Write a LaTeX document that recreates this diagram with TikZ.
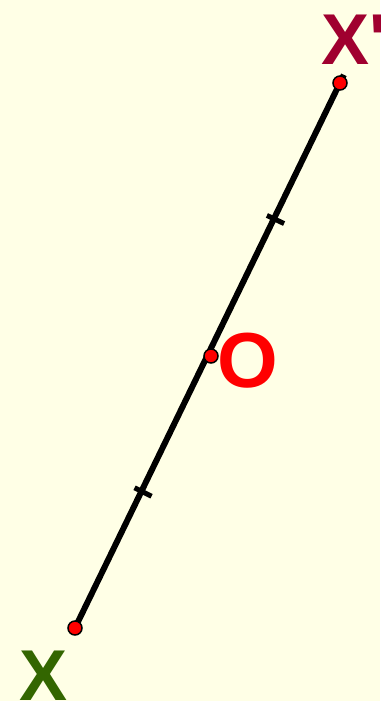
\documentclass[tikz,border=0pt]{standalone}
\usepackage{fontspec}
\setmainfont{Liberation Sans}
\usetikzlibrary{calc}
\definecolor{bg}{HTML}{FFFFE6}
\definecolor{xpcol}{HTML}{A0002F}
\definecolor{ocol}{HTML}{FF0000}
\definecolor{xcol}{HTML}{336600}
\tikzset{
  pt/.style={circle,draw=black,line width=1.5pt,fill=red,minimum size=14pt,inner sep=0pt},
  seg/.style={line width=6pt,black},
  tick/.style={line width=5pt,black},
  lbl/.style={inner sep=0pt,font=\bfseries\fontsize{72}{72}\selectfont}
}
\begin{document}
\begin{tikzpicture}[x=1pt,y=-1pt]
\fill[bg] (0,0) rectangle (380,701);
\useasboundingbox (0,0) rectangle (380,701);
\coordinate (Xc) at (75,628);
\coordinate (Oc) at (211,356);
\coordinate (Xpc) at (340,83);
\coordinate (top) at ($(Oc)!1.03!(Xpc)$);
\draw[seg] (Xc) -- (top);
\draw[tick] ($(Xc)!0.5!(Oc)!9.5pt!90:(Oc)$) -- ($(Xc)!0.5!(Oc)!9.5pt!-90:(Oc)$);
\draw[tick] ($(Oc)!0.5!(Xpc)!9.5pt!90:(Xpc)$) -- ($(Oc)!0.5!(Xpc)!9.5pt!-90:(Xpc)$);
\node[pt] (X) at (Xc) {};
\node[pt] (O) at (Oc) {};
\node[pt] (Xp) at (Xpc) {};
\node[lbl,text=xpcol,anchor=base west] (lXp) at (321,65) {X\textquotesingle};
\node[lbl,text=ocol,font=\bfseries\fontsize{78}{78}\selectfont] (lO) at (248,361) {O};
\node[lbl,text=xcol,anchor=base west] (lX) at (19,700) {X};
\end{tikzpicture}
\end{document}
